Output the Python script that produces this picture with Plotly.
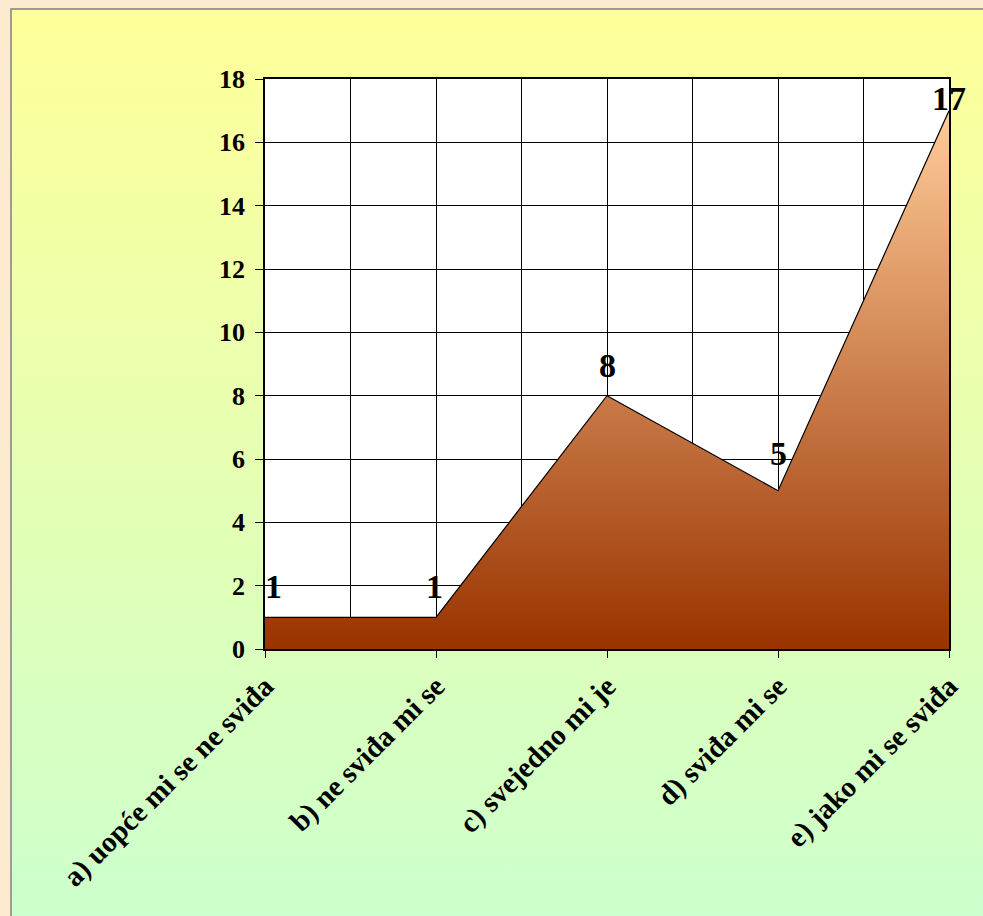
import plotly.graph_objects as go
import base64

categories = ["a) uopće mi se ne sviđa", "b) ne sviđa mi se", "c) svejedno mi je",
              "d) sviđa mi se", "e) jako mi se sviđa"]
values = [1, 1, 8, 5, 17]
y_ticks = list(range(0, 19, 2))

# label offsets (style only, pixels)
label_dx = [8, -2, 0, 0, 0]
label_dy = [31, 31, 30, 37, 12]

xs = list(range(len(categories)))

FONT = "Liberation Serif"

svg = ('<svg xmlns="http://www.w3.org/2000/svg" width="100" height="100" preserveAspectRatio="none">'
       '<defs><linearGradient id="g" x1="0" y1="0" x2="0" y2="1">'
       '<stop offset="0" stop-color="#FFFF99"/><stop offset="1" stop-color="#CCFFCC"/>'
       '</linearGradient></defs><rect width="100" height="100" fill="url(#g)"/></svg>')
svg_uri = "data:image/svg+xml;base64," + base64.b64encode(svg.encode()).decode()

fig = go.Figure()
fig.add_trace(go.Scatter(
    x=xs, y=values, mode="lines",
    line=dict(color="black", width=1.2),
    fill="tozeroy",
    fillgradient=dict(type="vertical",
                      colorscale=[[0, "#993300"], [1, "#FFCC99"]]),
    hoverinfo="skip",
    showlegend=False,
))

for xi, v, dx, dy in zip(xs, values, label_dx, label_dy):
    fig.add_annotation(x=xi, y=v, text=str(v), showarrow=False,
                       xanchor="center", yanchor="middle",
                       xshift=dx, yshift=dy,
                       font=dict(family=FONT, size=34, color="black", weight="bold"))

W, H = 983, 916
ml, mr, mt, mb = 265, 34, 79, 267
pw, ph = W - ml - mr, H - mt - mb

def px_x(p):
    return (p - ml) / pw

def px_y(p):
    return (H - mb - p) / ph

x0, x1 = px_x(11), px_x(W + 2)
y1, y0 = px_y(9), px_y(H + 2)

fig.add_layout_image(dict(
    source=svg_uri, xref="paper", yref="paper",
    x=x0, y=y1, sizex=x1 - x0, sizey=y1 - y0,
    sizing="stretch", xanchor="left", yanchor="top", layer="below",
))
fig.add_shape(type="rect", xref="paper", yref="paper",
              x0=x0, x1=x1, y0=y0, y1=y1,
              line=dict(color="#808080", width=1.5), layer="below")
fig.add_shape(type="rect", xref="x domain", yref="y domain",
              x0=0, x1=1, y0=0, y1=1,
              fillcolor="white", line=dict(width=0), layer="below")

fig.update_layout(
    width=W, height=H,
    margin=dict(l=ml, r=mr, t=mt, b=mb),
    paper_bgcolor="#FDEBD0",
    plot_bgcolor="white",
    font=dict(family=FONT, color="black"),
    xaxis=dict(
        range=[0, len(categories) - 1],
        tickvals=xs, ticktext=categories, tickangle=-45,
        tickfont=dict(family=FONT, size=29, color="black", weight="bold"),
        showgrid=True, gridcolor="black", gridwidth=1,
        minor=dict(dtick=0.5, showgrid=True, gridcolor="black", gridwidth=1),
        ticks="outside", ticklen=7, tickcolor="black",
        showline=True, linecolor="black", linewidth=1.5, mirror=True,
        zeroline=False,
    ),
    yaxis=dict(
        range=[0, 18], tickvals=y_ticks,
        tickfont=dict(family=FONT, size=26, color="black", weight="bold"),
        showgrid=True, gridcolor="black", gridwidth=1,
        ticks="outside", ticklen=8, tickcolor="black",
        ticklabelstandoff=5,
        showline=True, linecolor="black", linewidth=1.5, mirror=True,
        zeroline=False,
    ),
)

fig.write_html("out.html", config={"displayModeBar": False},
               post_script="document.body.style.margin='0';document.body.style.padding='0';")
